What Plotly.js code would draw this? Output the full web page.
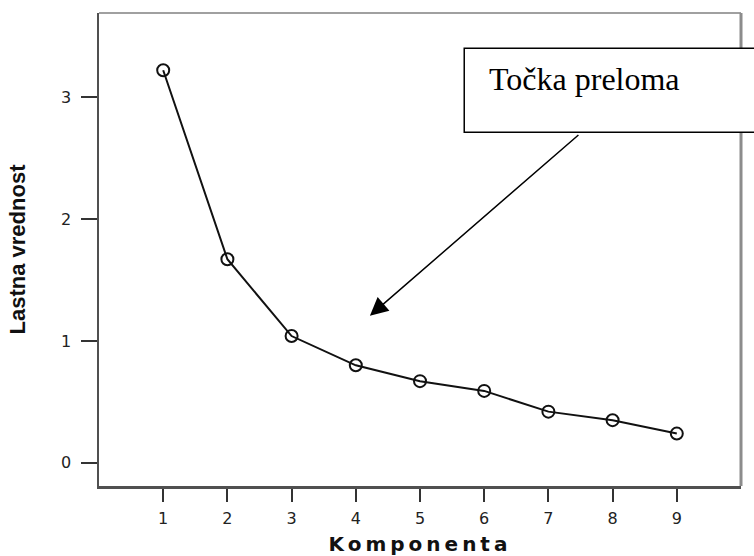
<!DOCTYPE html>
<html>
<head>
<meta charset="utf-8">
<script src="https://cdn.plot.ly/plotly-3.0.1.min.js"></script>
<style>html,body{margin:0;padding:0;background:#fff;}</style>
</head>
<body>
<div id="chart" style="width:754px;height:556px;"></div>
<script>
// Data
const components = [1, 2, 3, 4, 5, 6, 7, 8, 9];
const eigenvalues = [3.22, 1.67, 1.04, 0.80, 0.67, 0.59, 0.42, 0.35, 0.24];
const xTickVals = [1, 2, 3, 4, 5, 6, 7, 8, 9];
const yTickVals = [0, 1, 2, 3];
const xTitle = "Komponenta";
const yTitle = "Lastna vrednost";
const calloutText = "Točka preloma";

const trace = {
  x: components,
  y: eigenvalues,
  type: "scatter",
  mode: "lines+markers",
  line: {color: "#111", width: 2},
  marker: {symbol: "circle-open", size: 12, color: "#111", line: {width: 2, color: "#111"}},
  showlegend: false,
  hoverinfo: "x+y"
};

const layout = {
  width: 754,
  height: 556,
  margin: {l: 99, r: 13, t: 13, b: 70, pad: 0},
  paper_bgcolor: "#fff",
  plot_bgcolor: "#fff",
  showlegend: false,
  font: {family: "Liberation Sans, Arial, sans-serif", color: "#222"},
  xaxis: {
    range: [0, 10],
    tickvals: xTickVals,
    ticktext: xTickVals.map(String),
    ticks: "outside",
    ticklen: 13,
    tickwidth: 2,
    tickcolor: "#333",
    ticklabelstandoff: 3,
    tickfont: {size: 16, color: "#222", family: "DejaVu Sans, Verdana, sans-serif"},
    showgrid: false,
    zeroline: false,
    showline: true,
    linecolor: "#505050",
    linewidth: 2.5,
    title: {text: xTitle, standoff: 14,
      font: {family: "DejaVu Sans, Verdana, sans-serif", size: 20, weight: "bold", color: "#111"}}
  },
  yaxis: {
    range: [-0.19, 3.69],
    tickvals: yTickVals,
    ticktext: yTickVals.map(String),
    ticks: "outside",
    ticklen: 16,
    tickwidth: 2,
    tickcolor: "#333",
    ticklabelstandoff: 6,
    tickfont: {size: 16, color: "#222", family: "DejaVu Sans, Verdana, sans-serif"},
    showgrid: false,
    zeroline: false,
    showline: true,
    linecolor: "#505050",
    linewidth: 2.5,
    title: {text: yTitle, standoff: 30,
      font: {family: "Liberation Sans Narrow, Arial Narrow, Liberation Sans, sans-serif", size: 22, weight: "bold", color: "#111"}}
  },
  shapes: [
    {type: "line", xref: "paper", yref: "paper", x0: 0, x1: 1, y0: 1, y1: 1,
     line: {color: "#a0a0a0", width: 2}, layer: "above"},
    {type: "line", xref: "paper", yref: "paper", x0: 1, x1: 1, y0: 0, y1: 1,
     line: {color: "#8c8c8c", width: 3}, layer: "above"},
    {type: "rect", xref: "paper", yref: "paper", x0: 0.5689, x1: 1.08, y0: 0.7478, y1: 0.9254,
     line: {color: "#000", width: 1.5}, fillcolor: "#fff", layer: "above"}
  ],
  annotations: [
    {text: calloutText, xref: "paper", yref: "paper", x: 0.6047, y: 0.8598,
     xanchor: "left", yanchor: "middle", showarrow: false,
     font: {family: "Liberation Serif, Times New Roman, serif", size: 32, color: "#000"}},
    {text: "", xref: "x", yref: "y", x: 4.22, y: 1.207,
     showarrow: true, ax: 210, ay: -182, axref: "pixel", ayref: "pixel",
     arrowhead: 2, arrowsize: 2.4, arrowwidth: 1.5, arrowcolor: "#000", standoff: 0, startstandoff: 0}
  ]
};

Plotly.newPlot("chart", [trace], layout, {displayModeBar: false, staticPlot: true}).then(function () {
  const xt = document.querySelector(".g-xtitle text");
  if (xt) xt.style.letterSpacing = "4px";
});
</script>
</body>
</html>
